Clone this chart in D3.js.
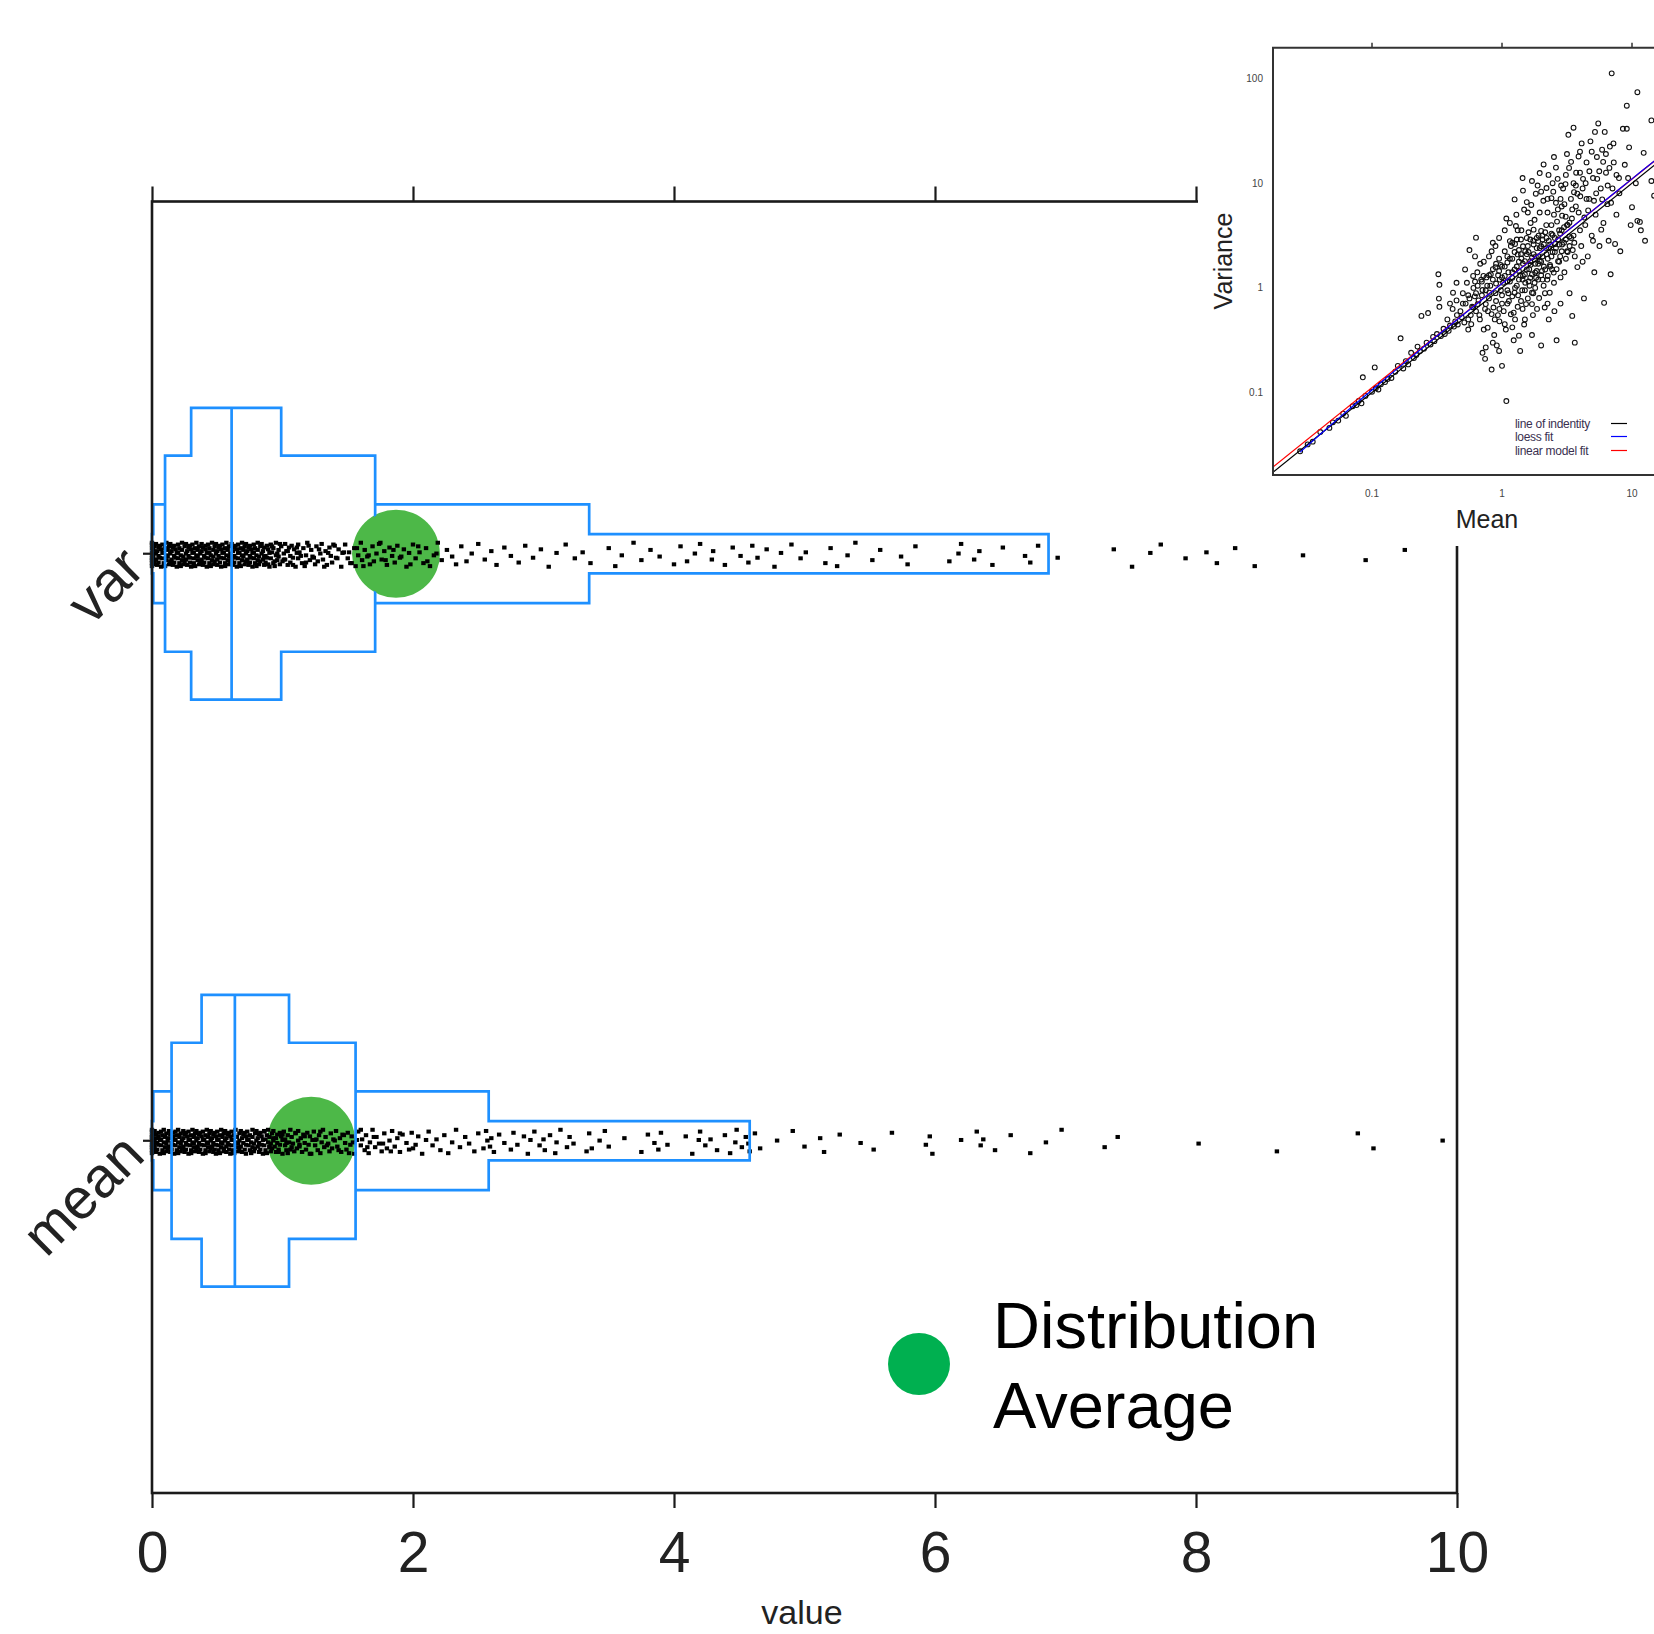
<!DOCTYPE html>
<html><head><meta charset="utf-8">
<script src="https://cdn.jsdelivr.net/npm/d3@7"></script>
<style>html,body{margin:0;padding:0;background:#fff;}svg{display:block;font-family:"Liberation Sans",Arial,Helvetica,sans-serif;}</style>
</head><body><svg id="c" width="1654" height="1634"></svg>
<script>
// ---------------- DATA ----------------
const categories = ["mean", "var"];
const xTicks = [0, 2, 4, 6, 8, 10];
const meanBoxLow  = [0.38, 0.15, 0.01, 0.0];
const meanBoxHigh = [1.05, 1.56, 2.58, 4.58];
const varBoxLow   = [0.30, 0.10, 0.01, 0.0];
const varBoxHigh  = [0.99, 1.71, 3.35, 6.87];
const medians  = [0.635, 0.61];   // mean, var
const averages = [1.22, 1.87];    // mean, var
const legendLabel = ["Distribution", "Average"];

const varValues = [
0,0,0,0,0,0,0,0,0,0.01,0.01,0.01,0.02,0.02,0.03,0.03,0.03,0.04,0.04,0.05,0.05,0.05,0.06,0.06,0.07,0.07,0.08,0.08,0.08,0.09,0.09,0.1,0.1,0.11,0.11,0.11,0.12,0.12,0.13,0.13,0.14,0.14,0.14,0.15,0.15,0.16,0.16,0.17,0.17,0.17,0.18,0.18,0.19,0.19,0.2,0.2,0.2,0.21,0.21,0.22,0.22,0.23,0.23,0.23,0.24,0.24,0.25,0.25,0.26,0.26,0.26,0.27,0.27,0.28,0.28,0.29,0.29,0.29,
0.3,0.3,0.31,0.31,0.32,0.32,0.32,0.33,0.33,0.34,0.34,0.35,0.35,0.35,0.36,0.36,0.37,0.37,0.38,0.38,0.38,0.39,0.39,0.4,0.4,0.41,0.41,0.41,0.42,0.42,0.43,0.43,0.44,0.44,0.44,0.45,0.45,0.46,0.46,0.47,0.47,0.47,0.48,0.48,0.49,0.49,0.5,0.5,0.5,0.51,0.51,0.52,0.52,0.53,0.53,0.53,0.54,0.54,0.55,0.55,0.56,0.56,0.56,0.57,0.57,0.58,0.58,0.59,0.59,0.59,0.6,0.6,
0.61,0.61,0.62,0.62,0.63,0.63,0.63,0.64,0.64,0.65,0.65,0.66,0.66,0.66,0.67,0.67,0.68,0.68,0.69,0.69,0.69,0.7,0.7,0.71,0.71,0.72,0.72,0.72,0.73,0.73,0.74,0.74,0.75,0.75,0.75,0.76,0.76,0.77,0.77,0.78,0.78,0.78,0.79,0.79,0.8,0.8,0.81,0.81,0.81,0.82,0.82,0.83,0.83,0.84,0.84,0.85,0.85,0.86,0.86,0.87,0.87,0.88,0.88,0.89,0.9,0.9,0.91,0.91,0.92,0.93,0.93,0.94,0.95,0.95,0.96,0.97,0.97,0.98,0.99,
1.0,1.01,1.02,1.02,1.03,1.04,1.05,1.06,1.06,1.07,1.08,1.09,1.1,1.11,1.12,1.12,1.13,1.15,1.16,1.17,1.18,1.19,1.21,1.22,1.23,1.25,1.26,1.27,1.29,1.3,1.31,1.33,1.34,1.36,1.37,1.38,1.4,1.41,1.43,1.45,1.46,1.48,1.5,1.51,1.53,1.55,1.56,1.58,1.6,1.61,1.63,1.65,1.67,1.69,1.7,
1.72,1.74,1.76,1.78,1.8,1.82,1.84,1.86,1.88,1.9,1.93,1.95,1.97,2.0,2.02,2.05,2.08,2.1,2.13,2.16,2.19,2.22,2.26,2.3,2.33,2.37,2.41,2.45,2.5,2.55,2.6,2.64,2.7,2.75,2.81,2.86,2.92,2.98,3.04,3.1,3.17,3.24,3.3,
3.36,3.5,3.55,3.6,3.69,3.75,3.82,3.89,4.0,4.05,4.1,4.16,4.2,4.29,4.3,4.39,4.45,4.51,4.57,4.6,4.64,4.71,4.77,4.82,4.9,4.97,5.01,5.16,5.2,5.25,5.33,5.39,5.52,5.58,5.74,5.79,5.85,6.11,6.18,6.2,6.3,6.34,6.44,6.52,6.69,6.73,6.79,
6.94,7.37,7.51,7.65,7.73,7.92,8.08,8.16,8.3,8.45,8.82,9.13,9.3,9.6,
0.86,0.89,0.92,0.94,0.96,0.98,1.01,1.04,1.08,1.11,1.14,1.18,1.2,1.24,1.28,1.32,1.35,1.39,1.42,1.47,1.52,1.57,1.62,1.66,1.75,1.79,1.85,1.91,1.98,2.04,2.11,2.18
];

const meanValues = [
0,0,0,0,0,0,0,0,0,0,0.01,0.01,0.01,0.01,0.02,0.02,0.02,0.03,0.03,0.03,0.04,0.04,0.05,0.05,0.05,0.06,0.06,0.07,0.07,0.07,0.08,0.08,0.09,0.09,0.09,0.1,0.1,0.11,0.11,0.11,0.12,0.12,0.13,0.13,0.13,0.14,0.14,0.15,
0.15,0.16,0.16,0.16,0.17,0.17,0.18,0.18,0.18,0.19,0.19,0.2,0.2,0.2,0.21,0.21,0.22,0.22,0.22,0.23,0.23,0.24,0.24,0.24,0.25,0.25,0.26,0.26,0.26,0.27,0.27,0.28,0.28,0.28,0.29,0.29,0.3,0.3,0.3,0.31,0.31,0.32,0.32,0.32,0.33,0.33,0.34,0.34,0.34,0.35,0.35,0.36,0.36,0.36,0.37,0.37,
0.38,0.38,0.39,0.39,0.39,0.4,0.4,0.41,0.41,0.41,0.42,0.42,0.43,0.43,0.43,0.44,0.44,0.45,0.45,0.45,0.46,0.46,0.47,0.47,0.47,0.48,0.48,0.49,0.49,0.49,0.5,0.5,0.51,0.51,0.51,0.52,0.52,0.53,0.53,0.53,0.54,0.54,0.55,0.55,0.55,0.56,0.56,0.57,0.57,0.57,0.58,0.58,0.59,0.59,0.59,0.6,0.6,0.61,0.61,0.61,0.62,0.62,0.63,0.63,
0.64,0.64,0.65,0.65,0.66,0.66,0.67,0.67,0.67,0.68,0.68,0.69,0.69,0.7,0.7,0.71,0.71,0.72,0.72,0.72,0.73,0.73,0.74,0.74,0.75,0.75,0.76,0.76,0.77,0.77,0.77,0.78,0.78,0.79,0.79,0.8,0.8,0.81,0.81,0.82,0.82,0.82,0.83,0.83,0.84,0.84,0.85,0.85,0.86,0.86,0.87,0.87,0.88,0.88,0.89,0.89,0.9,0.9,0.91,0.91,0.92,0.92,0.93,0.93,0.94,0.95,0.95,0.96,0.96,0.97,0.98,0.98,0.99,1.0,1.0,1.01,1.02,1.02,1.03,1.04,1.04,
1.05,1.06,1.07,1.07,1.08,1.09,1.1,1.11,1.12,1.12,1.13,1.14,1.15,1.16,1.17,1.18,1.19,1.2,1.21,1.22,1.23,1.24,1.25,1.26,1.27,1.28,1.29,1.3,1.31,1.32,1.33,1.35,1.36,1.37,1.38,1.4,1.41,1.42,1.44,1.45,1.46,1.48,1.49,1.5,1.52,1.53,1.55,
1.57,1.58,1.6,1.61,1.63,1.64,1.66,1.67,1.69,1.71,1.72,1.74,1.76,1.78,1.8,1.82,1.84,1.86,1.88,1.9,1.92,1.95,1.97,1.99,2.02,2.04,2.07,2.1,2.12,2.15,2.18,2.21,2.24,2.27,2.3,2.33,2.36,2.4,2.43,2.47,2.5,2.54,2.57,
2.56,2.59,2.6,2.62,2.66,2.7,2.75,2.77,2.8,2.85,2.88,2.9,2.93,2.97,3.0,3.01,3.05,3.09,3.1,3.13,3.18,3.2,3.23,3.33,3.35,3.37,3.43,3.47,3.5,3.62,3.75,3.8,3.85,3.88,3.9,3.95,4.09,4.14,4.19,4.2,4.24,4.28,4.33,4.39,4.43,4.47,4.48,4.52,4.55,4.57,4.58,
4.62,4.66,4.79,4.91,5.0,5.12,5.15,5.27,5.43,5.53,5.67,5.93,5.96,5.98,6.2,6.32,6.35,6.37,6.46,6.58,6.73,6.85,6.97,7.3,7.4,8.02,8.62,9.24,9.36,9.89,
0.86,0.9,0.93,0.97,1.0,1.03,1.06,1.1,1.13,1.17,1.21,1.25,1.29,1.34,1.39,1.43,1.47,1.51,1.54,1.6,1.65,1.7,1.77,1.83,1.9,2.0
];

// inset: mean vs variance (log-log)
const insetXTicks = [0.1, 1, 10];
const insetYTicks = [0.1, 1, 10, 100];
const insetPoints = [
[0.028,0.0275],[0.032,0.032],[0.035,0.034],[0.04,0.042],[0.047,0.046],[0.05,0.052],[0.055,0.054],[0.06,0.063],[0.063,0.06],[0.071,0.074],[0.076,0.076],[0.079,0.083],[0.083,0.079],[0.089,0.093],[0.085,0.14],[0.1,0.102],[0.107,0.11],[0.112,0.107],[0.117,0.12],[0.105,0.174],[0.126,0.126],[0.132,0.135],[0.141,0.138],[0.151,0.158],[0.158,0.18],[0.166,0.33],[0.174,0.17],[0.182,0.2],[0.19,0.186],[0.2,0.24],[0.21,0.214],[0.219,0.229],[0.224,0.275],[0.234,0.25],[0.24,0.54],[0.251,0.263],[0.263,0.3],[0.27,0.575],[0.282,0.288],[0.295,0.34],[0.302,0.31],[0.316,0.363],[0.324,1.35],[0.33,1.07],[0.327,0.79],[0.33,0.66],[0.339,0.347],[0.355,0.407],[0.363,0.363],[0.38,0.5],[0.389,0.389],[0.398,0.437],[0.417,0.63],[0.427,0.427],[0.437,0.479],[0.447,0.76],[0.457,0.447],[0.479,0.6],[0.49,0.525],[0.5,0.89],[0.513,0.468],[0.525,0.708],[0.537,1.12],[0.55,0.5],[0.562,0.794],[0.562,2.3],[0.575,0.55],[0.589,0.66],[0.603,1.0],[0.617,0.83],[0.631,3.02],[0.631,0.6],[0.646,1.41],[0.66,0.76],[0.676,0.5],[0.692,1.2],[0.708,0.24],[0.708,0.955],[0.724,1.78],[0.741,0.21],[0.741,0.63],[0.759,1.26],[0.776,0.417],[0.794,2.0],[0.794,0.794],[0.813,1.05],[0.832,0.166],[0.832,0.562],[0.851,1.51],[0.871,0.355],[0.891,0.891],[0.891,2.51],[0.912,0.282],[0.933,1.32],[0.955,0.479],[0.977,1.66],[1.0,0.18],[1.0,0.708],[1.02,1.12],[1.05,3.55],[1.07,0.4],[1.08,0.083],[1.1,2.0],[1.12,0.89],[1.15,4.17],[1.17,0.56],[1.2,1.41],[1.23,0.316],[1.26,2.63],[1.26,1.0],[1.29,5.0],[1.32,0.66],[1.35,1.78],[1.38,0.25],[1.41,3.55],[1.44,11.2],[1.44,1.2],[1.48,0.447],[1.51,2.24],[1.55,6.6],[1.58,0.794],[1.62,1.51],[1.66,4.17],[1.7,0.355],[1.74,2.82],[1.78,1.12],[1.82,7.94],[1.86,0.63],[1.91,2.0],[1.95,5.25],[2.0,0.282],[2.0,1.32],[2.04,3.16],[2.09,15.1],[2.14,0.89],[2.19,2.4],[2.24,7.08],[2.29,0.5],[2.34,1.66],[2.4,3.98],[2.45,10],[2.51,1.12],[2.57,2.63],[2.6,14.1],[2.63,0.316],[2.69,5.62],[2.75,1.78],[2.82,0.708],[2.88,3.55],[2.95,8.91],[3.02,1.41],[3.09,4.79],[3.16,19],[3.16,2.24],[3.24,29],[3.31,0.89],[3.39,7.08],[3.47,0.54],[3.55,33.9],[3.55,3.16],[3.63,0.3],[3.72,12.6],[3.8,1.58],[3.89,5.25],[3.98,20],[4.07,2.51],[4.17,8.91],[4.27,0.794],[4.37,3.98],[4.47,15.8],[4.57,2.0],[4.68,7.08],[4.79,25.1],[4.9,3.16],[5.01,11.2],[5.13,1.41],[5.19,30.9],[5.25,5.01],[5.37,17.8],[5.5,37.2],[5.62,2.51],[5.75,8.91],[5.89,20.9],[6.03,4.17],[6.1,0.72],[6.17,30.9],[6.31,12.6],[6.46,6.31],[6.61,2.82],[6.76,22.4],[6.85,1.35],[6.98,112],[7.08,8.91],[7.24,15.8],[7.41,2.63],[7.59,5.01],[7.94,11.2],[8.13,2.24],[8.51,33.1],[9.12,33.1],[9.12,55],[9.33,11.2],[9.77,3.98],[10,5.9],[10.7,10],[11,4.37],[11,74],[11.5,4.27],[11.7,3.55],[12.3,19.5],[12.6,2.82],[14.1,39.8],[14.1,10.5],[14.8,7.6],
[0.794,1.32],[0.891,1.58],[1.0,1.26],[1.05,2.24],[1.12,1.41],[1.17,2.51],[1.2,0.83],[1.32,2.09],[1.38,1.32],[1.41,1.91],[1.51,1.12],[1.58,2.51],[1.66,1.66],[1.74,0.89],[1.82,2.0],[1.91,3.16],[2.0,1.78],[2.09,1.05],[2.19,3.98],[2.29,2.82],[2.4,2.0],[2.51,5.01],[2.63,1.51],[2.75,3.55],[2.88,2.24],[3.02,6.31],[3.16,3.98],[3.31,2.51],[3.47,5.62],[3.63,2.0],[3.8,7.94],[3.98,3.55],[0.955,0.63],[1.1,0.708],[1.26,0.5],[1.44,0.63],[0.631,0.89],[0.724,0.4],[0.832,2.24],[0.5,0.708],[0.447,1.12],[0.398,0.708],[2.24,0.708],[2.82,1.26],[4.17,1.78],[5.01,2.82],[4.47,7.08],[3.55,10],[2.82,7.08],[2.24,5.25],[1.78,4.47],[1.32,3.55],[1.58,5.25],[2.0,8.3],[2.51,17.8],[3.98,12.6],
[1.05,1.6],[1.1,1.15],[1.15,1.9],[1.2,2.7],[1.25,1.5],[1.3,1.05],[1.35,2.3],[1.4,2.9],[1.45,1.7],[1.5,1.35],[1.55,2.1],[1.6,3.4],[1.65,1.25],[1.7,1.95],[1.75,2.6],[1.8,1.4],[1.85,3.0],[1.9,1.7],[1.95,2.4],[2.05,2.9],[2.1,1.6],[2.15,3.4],[2.2,2.1],[2.25,1.3],[2.35,2.6],[2.45,3.2],[2.55,2.2],[2.65,4.3],[2.7,2.9],[2.8,2.0],[2.9,4.9],[3.0,2.7],[3.1,1.9],[3.2,4.0],[3.3,3.1],[3.45,4.6],[3.6,2.7],[3.7,6.0],[0.85,1.2],[0.9,0.75],[0.95,1.45],[0.75,0.95],[0.7,1.15],[0.65,0.7],[0.6,1.3],[0.68,1.7],[0.78,0.6],[0.88,0.5],[0.98,0.95],[1.03,0.6],[1.13,0.75],[1.23,0.58],[1.33,0.85],[1.43,0.95],[1.53,0.7],[1.63,1.05],[1.73,0.55],[1.83,1.25],[1.93,0.8],[2.03,1.45],[2.13,0.65],[2.23,1.2],[2.33,0.9],[2.43,1.5],[2.53,0.6],[1.08,4.6],[1.28,3.9],[1.48,5.6],[1.68,6.2],[1.88,9.5],[2.08,6.8],[2.28,12],[2.48,8.3],[2.68,11],[2.88,6.0],[3.08,9.8],[3.28,14],[3.58,8.2],[3.88,18],[4.2,11],[4.6,5.5],[4.3,4.7],[5.3,8.0],[5.6,13],[6.0,16],[6.5,9.5],[4.9,20],[4.1,24],[5.8,3.6],[6.9,6.5],[0.55,0.4],[0.45,0.55],[0.42,0.9],[0.52,1.5],[0.58,0.45],[0.62,2.0],
[0.9,1.1],[0.95,1.9],[1.0,0.85],[1.0,1.6],[1.05,1.3],[1.1,0.95],[1.1,1.75],[1.15,1.15],[1.15,2.8],[1.2,1.25],[1.2,1.9],[1.25,0.9],[1.25,2.2],[1.3,1.6],[1.3,2.9],[1.35,1.2],[1.35,1.45],[1.4,0.75],[1.4,2.1],[1.45,1.3],[1.45,2.5],[1.5,1.8],[1.5,0.95],[1.55,1.5],[1.55,3.0],[1.6,1.15],[1.6,2.2],[1.65,1.8],[1.65,2.9],[1.7,1.35],[1.7,0.9],[1.75,2.1],[1.75,3.6],[1.8,1.7],[1.8,1.0],[1.85,2.4],[1.85,1.45],[1.9,2.8],[1.9,1.2],[1.95,1.8],[2.0,2.5],[2.0,3.5],[2.05,1.2],[2.05,2.0],[2.1,2.6],[2.15,1.5],[2.2,3.0],[2.25,1.9],[2.3,2.4],[2.35,1.6],[2.4,3.3],[2.45,2.2],[2.5,1.4],[2.55,3.0],[2.6,2.4],[2.7,1.8],[2.75,2.6],[2.8,3.3],[2.9,2.6],[3.0,3.8],[3.1,2.9],[3.2,2.2],[3.3,4.2],[3.4,3.0],[3.5,2.3],[0.8,0.9],[0.82,1.35],[0.86,0.65],[0.9,1.7],[0.93,0.55],[0.96,1.2],[0.7,0.85],[0.72,1.3],[0.75,0.7],[0.77,1.05],[0.65,1.05],[0.6,0.65],[0.55,0.85],[0.62,1.15],[0.67,0.55],[0.85,2.7],[0.95,3.0],[1.05,0.45],[1.2,0.42],[1.35,0.35],[1.5,0.5],[1.7,0.7],[0.85,0.3],[0.95,0.25],[0.75,0.27],[1.25,7.0],[1.45,8.5],[1.7,10.5],[1.95,12.5],[2.2,9.0],[2.4,7.2],[2.6,6.5],[2.85,9.5],[3.1,12],[3.4,16],[3.7,9.5],[4.0,7.5],[4.4,10],[4.7,13],[5.1,6.8],[5.4,11],[5.9,7.0],[6.3,19],[6.7,14],[7.2,24],[7.6,12],[8.0,8],[8.8,15],[9.5,22]
];
const identityMean = [0.0174, 16];
const identityVar  = [0.0174, 16];
const loessMean = [0.028,0.04,0.06,0.1,0.15,0.2,0.3,0.5,0.7,1,1.5,2,3,5,7,10,16];
const loessVar  = [0.027,0.04,0.062,0.106,0.162,0.218,0.33,0.55,0.77,1.1,1.65,2.2,3.3,5.5,7.7,11,17.6];
const lmMean = [0.0174, 16];
const lmVar  = [0.0196, 17.5];
const insetLegend = ["line of indentity", "loess fit", "linear model fit"];

// ---------------- DRAWING ----------------
const svg = d3.select("#c");
const FONT = '"Liberation Sans", Arial, Helvetica, sans-serif';
const BLUE = "#1e90ff", AXIS = "#1a1a1a", DOTGREEN = "#4db848", LEGGREEN = "#00b050";

const x = d3.scaleLinear().domain([0, 10]).range([152, 1457]);
const y = d3.scalePoint().domain(categories).range([1493, 201.5]).padding(0.6);
const step = y.step();
const levelFrac = [0.497, 0.334, 0.168, 0.067];
const AVG_R = 44;
const JITTER = [-0.85,0.3,-0.2,0.7,-0.55,0.95,0.05,-1,0.45,-0.4,0.15,0.8,-0.7,0.55,-0.1,-0.9,0.4,-0.3,0.85,-0.6,0.1,0.65,-0.75,0.25,-0.45,1,-0.15];

const defs = svg.append("defs");
// mask so the box outlines do not run across the green average dots
const mask = defs.append("mask").attr("id", "noavg").attr("maskUnits", "userSpaceOnUse")
  .attr("x", 0).attr("y", 0).attr("width", 1654).attr("height", 1634);
mask.append("rect").attr("width", 1654).attr("height", 1634).attr("fill", "#fff");
mask.selectAll("circle").data(categories).enter().append("circle")
  .attr("cx", (d, i) => x(averages[i])).attr("cy", d => y(d)).attr("r", AVG_R - 1).attr("fill", "#000");

// averages (under the points)
svg.selectAll("circle.avg").data(categories).enter().append("circle")
  .attr("cx", (d, i) => x(averages[i])).attr("cy", d => y(d)).attr("r", AVG_R)
  .attr("fill", DOTGREEN);

// jittered points
function strip(cat, vals) {
  const cy = y(cat) + 1;
  svg.append("g").selectAll("rect").data(vals).enter().append("rect")
    .attr("x", d => x(d) - 2.2)
    .attr("y", (d, i) => cy + JITTER[i % JITTER.length] * 12 - 2)
    .attr("width", 4.4).attr("height", 4).attr("fill", "#000");
}
strip("mean", meanValues);
strip("var", varValues);

// letter-value boxes (drawn over the points)
function boxen(cat, lo, hi, med) {
  const cy = y(cat);
  const n = lo.length;
  const segs = [];
  for (let i = 0; i < n; i++) {
    const h = levelFrac[i] * step / 2, t = cy - h, b = cy + h;
    const x0 = x(lo[i]), x1 = x(hi[i]);
    if (i === 0) { segs.push([x0, t, x1, t], [x0, b, x1, b]); }
    else {
      const p0 = x(lo[i - 1]), p1 = x(hi[i - 1]);
      segs.push([x0, t, p0, t], [p1, t, x1, t], [x0, b, p0, b], [p1, b, x1, b]);
    }
    if (i % 2 === 1 || i === n - 1) segs.push([x0, t, x0, b], [x1, t, x1, b]);
    else {
      const hn = levelFrac[i + 1] * step / 2;
      segs.push([x0, t, x0, cy - hn], [x0, cy + hn, x0, b], [x1, t, x1, cy - hn], [x1, cy + hn, x1, b]);
    }
  }
  const h1 = levelFrac[0] * step / 2;
  segs.push([x(med), cy - h1, x(med), cy + h1]);
  svg.append("path")
    .attr("d", segs.map(s => `M${s[0]},${s[1]}L${s[2]},${s[3]}`).join(""))
    .attr("fill", "none").attr("stroke", BLUE).attr("stroke-width", 2.7)
    .attr("stroke-linecap", "square").attr("mask", "url(#noavg)");
}
boxen("mean", meanBoxLow, meanBoxHigh, medians[0]);
boxen("var", varBoxLow, varBoxHigh, medians[1]);

// frame
const [X0, X1] = x.range();
const Y0 = 201.5, Y1 = 1493;
svg.append("rect").attr("x", X0).attr("y", Y0).attr("width", X1 - X0).attr("height", Y1 - Y0)
  .attr("fill", "none").attr("stroke", AXIS).attr("stroke-width", 2.6);
// bottom axis
const bottomAx = svg.append("g").attr("transform", `translate(0,${Y1})`)
  .call(d3.axisBottom(x).tickValues(xTicks).tickSize(15).tickSizeOuter(0).tickPadding(22));
bottomAx.select(".domain").remove();
bottomAx.selectAll(".tick line").attr("stroke", AXIS).attr("stroke-width", 2.2);
bottomAx.selectAll(".tick text").attr("font-family", FONT).attr("font-size", 57).attr("fill", "#222")
  .attr("dy", null).attr("y", 79);
// top axis
const topAx = svg.append("g").attr("transform", `translate(0,${Y0})`)
  .call(d3.axisTop(x).tickValues(xTicks).tickSize(15).tickSizeOuter(0).tickFormat(""));
topAx.select(".domain").remove();
topAx.selectAll(".tick line").attr("stroke", AXIS).attr("stroke-width", 2.2);
// left ticks + rotated category labels
svg.append("g").selectAll("line").data(categories).enter().append("line")
  .attr("x1", X0 - 9).attr("x2", X0).attr("y1", d => y(d)).attr("y2", d => y(d))
  .attr("stroke", AXIS).attr("stroke-width", 2.2);
svg.append("g").selectAll("text").data(categories).enter().append("text")
  .attr("transform", d => `translate(${X0 - 5},${y(d) + 17}) rotate(-45)`)
  .attr("text-anchor", "end").attr("font-family", FONT).attr("font-size", 57).attr("fill", "#222")
  .text(d => d);
// x title (at the bottom edge)
svg.append("text").attr("x", 802).attr("y", 1624).attr("text-anchor", "middle")
  .attr("font-family", FONT).attr("font-size", 34).attr("fill", "#222").text("value");

// legend
svg.append("circle").attr("cx", 919).attr("cy", 1364).attr("r", 31).attr("fill", LEGGREEN);
svg.append("g").selectAll("text").data(legendLabel).enter().append("text")
  .attr("x", 993).attr("y", (d, i) => 1348 + i * 80)
  .attr("font-family", FONT).attr("font-size", 65).attr("fill", "#000").text(d => d);

// ---------------- INSET ----------------
svg.append("rect").attr("x", 1198).attr("y", 0).attr("width", 456).attr("height", 546).attr("fill", "#fff");
const xi = d3.scaleLog().domain([0.1, 10]).range([1372, 1632]);
const yi = d3.scaleLog().domain([0.1, 100]).range([392.6, 78.5]);
const IB = { x0: 1273, y0: 47.7, x1: 1720, y1: 475 };
defs.append("clipPath").attr("id", "ic").append("rect")
  .attr("x", IB.x0).attr("y", IB.y0).attr("width", IB.x1 - IB.x0).attr("height", IB.y1 - IB.y0);
const ig = svg.append("g").attr("clip-path", "url(#ic)");
ig.append("g").selectAll("circle").data(insetPoints).enter().append("circle")
  .attr("cx", d => xi(d[0])).attr("cy", d => yi(d[1])).attr("r", 2.4)
  .attr("fill", "none").attr("stroke", "#111").attr("stroke-width", 1.1);
const line = d3.line().x(d => xi(d[0])).y(d => yi(d[1]));
ig.append("path").attr("d", line(identityMean.map((m, i) => [m, identityVar[i]])))
  .attr("fill", "none").attr("stroke", "#000").attr("stroke-width", 1.2);
ig.append("path").attr("d", line(lmMean.map((m, i) => [m, lmVar[i]])))
  .attr("fill", "none").attr("stroke", "#ff0000").attr("stroke-width", 1.2);
ig.append("path").attr("d", line.curve(d3.curveMonotoneX)(loessMean.map((m, i) => [m, loessVar[i]])))
  .attr("fill", "none").attr("stroke", "#0000ff").attr("stroke-width", 1.2);
// inset box
svg.append("path").attr("d", `M${IB.x1},${IB.y0}L${IB.x0},${IB.y0}L${IB.x0},${IB.y1}L${IB.x1},${IB.y1}`)
  .attr("fill", "none").attr("stroke", "#333").attr("stroke-width", 2);
// ticks on top
svg.append("g").selectAll("line").data(insetXTicks).enter().append("line")
  .attr("x1", d => xi(d)).attr("x2", d => xi(d)).attr("y1", IB.y0 - 5).attr("y2", IB.y0)
  .attr("stroke", "#333").attr("stroke-width", 1.5);
// tick labels
svg.append("g").selectAll("text").data(insetXTicks).enter().append("text")
  .attr("x", d => xi(d)).attr("y", 497).attr("text-anchor", "middle")
  .attr("font-family", FONT).attr("font-size", 10).attr("fill", "#444").text(d => d3.format("~g")(d));
svg.append("g").selectAll("text").data(insetYTicks).enter().append("text")
  .attr("x", 1263).attr("y", d => yi(d) + 3.5).attr("text-anchor", "end")
  .attr("font-family", FONT).attr("font-size", 10).attr("fill", "#444").text(d => d3.format("~g")(d));
svg.append("text").attr("x", 1487).attr("y", 528).attr("text-anchor", "middle")
  .attr("font-family", FONT).attr("font-size", 25).attr("fill", "#222").text("Mean");
svg.append("text").attr("transform", "translate(1232,261) rotate(-90)").attr("text-anchor", "middle")
  .attr("font-family", FONT).attr("font-size", 25).attr("fill", "#222").text("Variance");
// inset legend
const legCols = ["#000", "#0000ff", "#ff0000"];
const legY = [423.5, 436.5, 450.5];
svg.append("g").selectAll("text").data(insetLegend).enter().append("text")
  .attr("x", 1515).attr("y", (d, i) => legY[i] + 4)
  .attr("font-family", FONT).attr("font-size", 12).attr("letter-spacing", -0.3).attr("fill", "#3a3050").text(d => d);
svg.append("g").selectAll("line").data(insetLegend).enter().append("line")
  .attr("x1", 1611).attr("x2", 1627).attr("y1", (d, i) => legY[i]).attr("y2", (d, i) => legY[i])
  .attr("stroke", (d, i) => legCols[i]).attr("stroke-width", 1.2);
</script></body></html>
